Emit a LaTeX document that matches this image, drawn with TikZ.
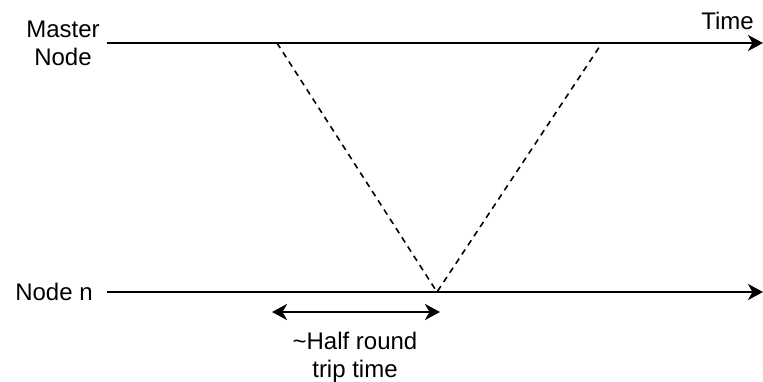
\documentclass[tikz,border=0pt]{standalone}
\usepackage{fontspec}
\setmainfont{Liberation Sans}
\usetikzlibrary{arrows.meta}
\begin{document}
\begin{tikzpicture}[x=1pt,y=-1pt,
  lbl/.style={font=\fontsize{24}{28}\selectfont, align=center, inner sep=0pt},
  tip/.style={Stealth[length=15pt,width=16pt,inset=4.5pt]},
  timeline/.style={line width=2.5pt, -{Stealth[length=15pt,width=16pt,inset=4.5pt]}},
  msg/.style={line width=1.6pt, dash pattern=on 6pt off 5pt},
  span/.style={line width=2.5pt, {Stealth[length=15pt,width=16pt,inset=4.5pt]}-{Stealth[length=15pt,width=16pt,inset=4.5pt]}}]
\useasboundingbox (0,0) rectangle (763,381);
\node[lbl] (master) at (63,43) {Master\\Node};
\node[lbl] (noden) at (54,292) {Node n};
\node[lbl, anchor=base east] (time) at (754,29) {Time};
\node[lbl] (half) at (355,357) {\textasciitilde Half round\\trip time};
\coordinate (m0) at (107,43);
\coordinate (m1) at (763,43);
\coordinate (n0) at (107,292);
\coordinate (n1) at (763,292);
\coordinate (send) at (277,43);
\coordinate (apex) at (437,292);
\coordinate (back) at (602,43);
\coordinate (h0) at (272,312);
\coordinate (h1) at (440,312);
\draw[timeline] (m0) -- (m1);
\draw[timeline] (n0) -- (n1);
\draw[msg] (send) -- (apex) -- (back);
\draw[span] (h0) -- (h1);
\end{tikzpicture}
\end{document}
